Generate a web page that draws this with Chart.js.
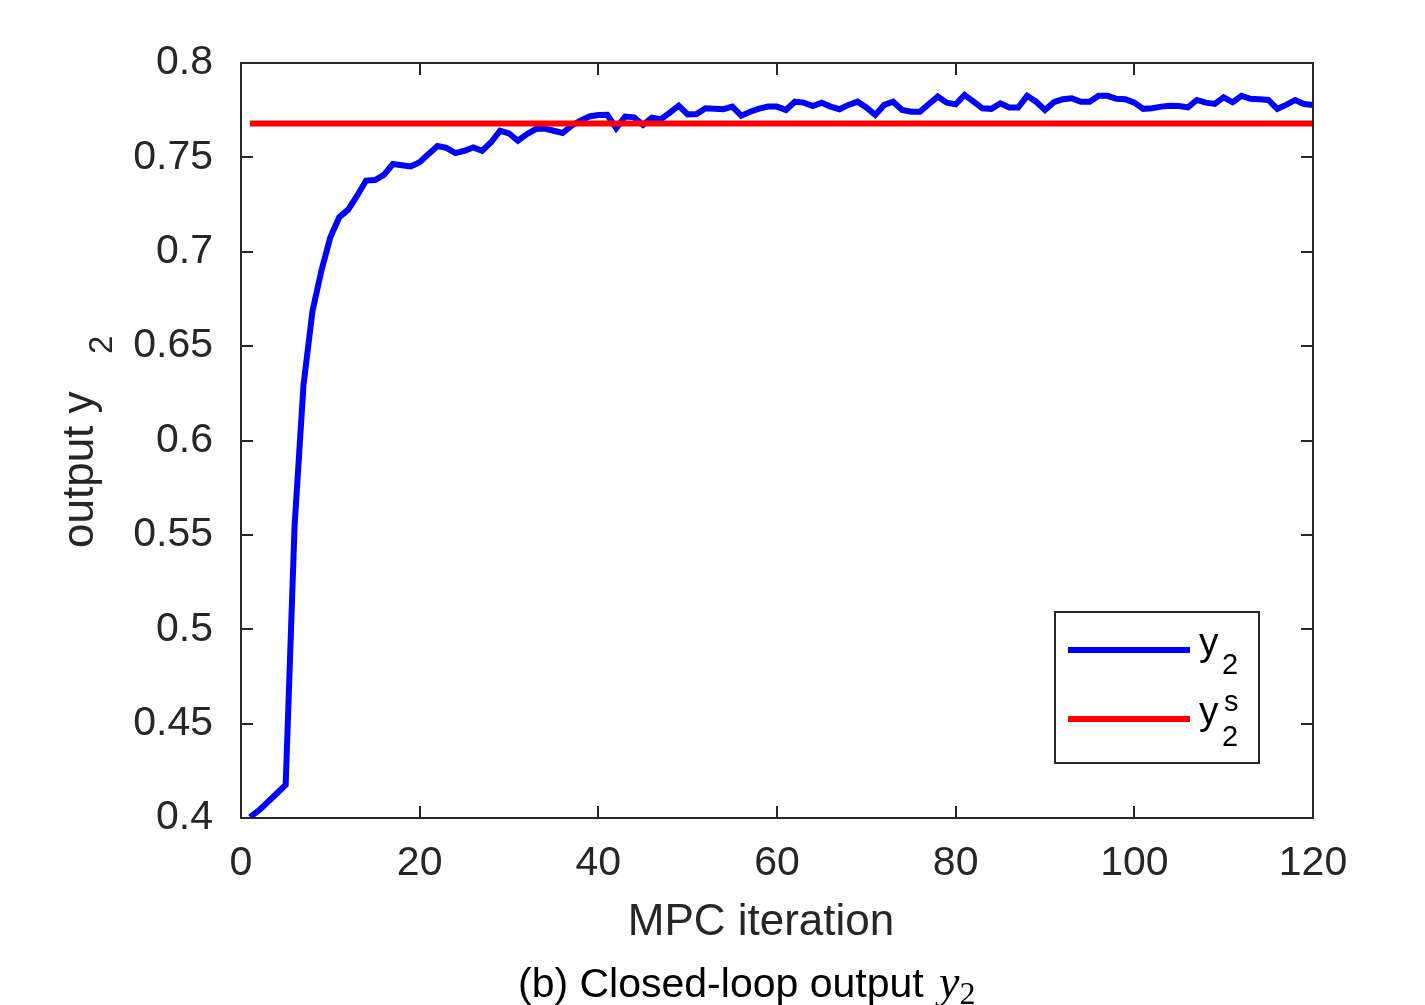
<!DOCTYPE html>
<html lang="en">
<head>
  <meta charset="UTF-8" />
  <title>Closed-loop output y2</title>
  <script src="https://cdn.jsdelivr.net/npm/chart.js"></script>
  <style>
    html, body {
      margin: 0;
      padding: 0;
      background: #ffffff;
    }
    canvas {
      display: block;
    }
  </style>
</head>
<body>
  <canvas id="chart" width="1425" height="1005"></canvas>

  <script>
    // output y2 at MPC iterations 1..120
    const y2 = [
      0.4005, 0.404, 0.4085, 0.413, 0.4175, 0.555, 0.6295, 0.6685, 0.69, 0.7077,
      0.7183, 0.7223, 0.7297, 0.7377, 0.738, 0.7407, 0.7465, 0.7458, 0.7452, 0.7474,
      0.7518, 0.756, 0.755, 0.7523, 0.7535, 0.7553, 0.7535, 0.758, 0.7641, 0.7627,
      0.7588, 0.7623, 0.765, 0.7653, 0.7641, 0.7629, 0.7668, 0.7694, 0.7717, 0.7724,
      0.7725, 0.7655, 0.7716, 0.7712, 0.7672, 0.771, 0.7702, 0.7737, 0.7774, 0.7728,
      0.773, 0.776, 0.7758, 0.7755, 0.7769, 0.7721, 0.7742, 0.7758, 0.7769, 0.7769,
      0.7751, 0.7795, 0.779, 0.7772, 0.779, 0.7769, 0.7755, 0.7778, 0.7795, 0.7765,
      0.7725, 0.7778, 0.7795, 0.7751, 0.7742, 0.7742, 0.7783, 0.7822, 0.779, 0.7781,
      0.7831, 0.7795, 0.776, 0.7757, 0.7786, 0.7764, 0.7764, 0.7826, 0.7795, 0.7751,
      0.7792, 0.7808, 0.7813, 0.7795, 0.7795, 0.7827, 0.7826, 0.781, 0.7808, 0.779,
      0.7757, 0.776, 0.7769, 0.7774, 0.7772, 0.7765, 0.7804, 0.779, 0.7783, 0.7818,
      0.7792, 0.7826, 0.781, 0.7808, 0.7804, 0.7757, 0.7778, 0.7804, 0.7783, 0.7778
    ];
    const iterations = y2.map((_, i) => i + 1);

    // setpoint y2^s
    const setpointX = [1, 120];
    const setpointY = [0.768, 0.768];

    const xTicks = [0, 20, 40, 60, 80, 100, 120];
    const yTicks = [0.4, 0.45, 0.5, 0.55, 0.6, 0.65, 0.7, 0.75, 0.8];

    const ink = '#262626';
    const sans = '"Liberation Sans", Arial, sans-serif';

    // box, inward ticks, labels, legend and caption (MATLAB look)
    const decor = {
      id: 'decor',
      afterDatasetsDraw(chart) {
        const ctx = chart.ctx;
        const a = chart.chartArea;
        const xs = chart.scales.x, ys = chart.scales.y;
        ctx.save();
        ctx.strokeStyle = ink;
        ctx.lineWidth = 2;
        ctx.strokeRect(a.left, a.top, a.right - a.left, a.bottom - a.top);
        ctx.beginPath();
        xTicks.forEach(v => {
          const px = Math.round(xs.getPixelForValue(v));
          ctx.moveTo(px, a.bottom); ctx.lineTo(px, a.bottom - 12);
          ctx.moveTo(px, a.top); ctx.lineTo(px, a.top + 12);
        });
        yTicks.forEach(v => {
          const py = Math.round(ys.getPixelForValue(v));
          ctx.moveTo(a.left, py); ctx.lineTo(a.left + 12, py);
          ctx.moveTo(a.right, py); ctx.lineTo(a.right - 12, py);
        });
        ctx.stroke();

        // legend
        ctx.fillStyle = '#ffffff';
        ctx.fillRect(1055, 612, 204, 151);
        ctx.strokeRect(1055, 612, 204, 151);
        ctx.lineWidth = 6;
        ctx.strokeStyle = '#0000ff';
        ctx.beginPath(); ctx.moveTo(1068, 650); ctx.lineTo(1190, 650); ctx.stroke();
        ctx.strokeStyle = '#ff0000';
        ctx.beginPath(); ctx.moveTo(1068, 719); ctx.lineTo(1190, 719); ctx.stroke();
        ctx.fillStyle = '#000000';
        ctx.textAlign = 'left';
        ctx.textBaseline = 'alphabetic';
        ctx.font = '39px ' + sans;
        ctx.fillText('y', 1199, 655);
        ctx.fillText('y', 1199, 724);
        ctx.font = '29px ' + sans;
        ctx.fillText('2', 1222, 674);
        ctx.fillText('s', 1224, 711);
        ctx.fillText('2', 1222, 746);

        // axis titles
        ctx.fillStyle = ink;
        ctx.font = '44px ' + sans;
        ctx.textAlign = 'center';
        ctx.fillText('MPC iteration', 761, 935);

        ctx.save();
        ctx.translate(93, 548);
        ctx.rotate(-Math.PI / 2);
        ctx.textAlign = 'left';
        ctx.fillText('output y', 0, 0);
        ctx.font = '33px ' + sans;
        ctx.fillText('2', 194, 19);
        ctx.restore();

        // caption
        ctx.fillStyle = '#000000';
        ctx.textAlign = 'left';
        ctx.font = '41px ' + sans;
        const cap = '(b) Closed-loop output ';
        ctx.fillText(cap, 518, 997);
        const cx = 518 + ctx.measureText(cap).width;
        ctx.font = 'italic 46px "Liberation Serif", serif';
        ctx.fillText('y', cx + 4, 997);
        const yw = ctx.measureText('y').width;
        ctx.font = '32px "Liberation Serif", serif';
        ctx.fillText('2', cx + 4 + yw, 1004);
        ctx.restore();
      }
    };

    new Chart(document.getElementById('chart').getContext('2d'), {
      type: 'line',
      data: {
        datasets: [
          {
            label: 'y2',
            data: iterations.map((x, i) => ({ x: x, y: y2[i] })),
            borderColor: '#0000ff',
            borderWidth: 6,
            pointRadius: 0,
            tension: 0,
            order: 1
          },
          {
            label: 'y2s',
            data: setpointX.map((x, i) => ({ x: x, y: setpointY[i] })),
            borderColor: '#ff0000',
            borderWidth: 6,
            pointRadius: 0,
            tension: 0,
            order: 0
          }
        ]
      },
      options: {
        responsive: false,
        animation: false,
        layout: { padding: { left: 0, top: 63, right: 112, bottom: 0 } },
        plugins: {
          legend: { display: false },
          tooltip: { enabled: false }
        },
        scales: {
          x: {
            type: 'linear',
            min: 0,
            max: 120,
            afterFit: s => { s.height = 187; },
            afterBuildTicks: s => { s.ticks = xTicks.map(v => ({ value: v })); },
            grid: { drawOnChartArea: false, drawTicks: false },
            border: { display: true, color: ink, width: 2 },
            ticks: {
              color: ink,
              padding: 21,
              font: { family: sans, size: 41 }
            }
          },
          y: {
            min: 0.4,
            max: 0.8,
            afterFit: s => { s.width = 241; },
            afterBuildTicks: s => { s.ticks = yTicks.map(v => ({ value: v })); },
            grid: { drawOnChartArea: false, drawTicks: false },
            border: { display: true, color: ink, width: 2 },
            ticks: {
              color: ink,
              padding: 28,
              font: { family: sans, size: 41 },
              callback: v => String(+v.toFixed(2))
            }
          }
        }
      },
      plugins: [decor]
    });
  </script>
</body>
</html>
